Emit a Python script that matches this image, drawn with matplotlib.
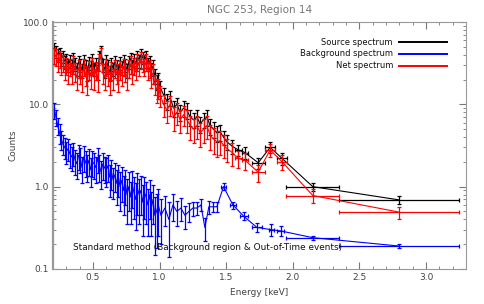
import numpy as np
import matplotlib
matplotlib.use("Agg")
import matplotlib.pyplot as plt
from matplotlib.ticker import FixedLocator, MultipleLocator, NullFormatter

# ---------------- data ----------------
# fine-binned energies (keV), shared by source / net / background
e_fine = [0.210, 0.223, 0.236, 0.249, 0.262, 0.275, 0.288, 0.301, 0.314, 0.327,
          0.340, 0.353, 0.366, 0.379, 0.392, 0.405, 0.418, 0.431, 0.444, 0.457,
          0.470, 0.483, 0.496, 0.509, 0.522, 0.535, 0.548, 0.561, 0.574, 0.587,
          0.600, 0.613, 0.626, 0.639, 0.652, 0.665, 0.678, 0.691, 0.704, 0.717,
          0.730, 0.743, 0.756, 0.769, 0.782, 0.795, 0.808, 0.821, 0.834, 0.847,
          0.860, 0.873, 0.886, 0.899, 0.912, 0.925, 0.938, 0.951, 0.964, 0.977,
          0.990]
# medium bins for source / net
e_mid = [1.005, 1.030, 1.055, 1.080, 1.105, 1.130, 1.155, 1.180, 1.205, 1.230,
         1.255, 1.280, 1.305, 1.330, 1.355, 1.380, 1.405, 1.430, 1.455, 1.480,
         1.505, 1.545]
# wide bins for source / net
e_tail = [1.59, 1.64, 1.74, 1.83, 1.92, 2.15, 2.80]
e_tail_halfwidth = [0.025, 0.025, 0.05, 0.035, 0.04, 0.20, 0.45]

src_fine = [48, 44, 40, 42, 36, 38, 33, 35, 30, 34,
            29, 36, 31, 27, 33, 30, 26, 34, 29, 24,
            32, 28, 35, 27, 31, 25, 38, 44, 30, 26,
            34, 29, 24, 31, 27, 33, 29, 25, 32, 28,
            34, 30, 26, 33, 36, 29, 35, 31, 38, 34,
            40, 37, 34, 38, 31, 33, 27, 29, 22, 19,
            20]
src_fine_err = [8, 7.5, 7, 7, 6.5, 6.5, 6, 6, 5.5, 6,
                5.5, 6.5, 5.5, 5, 6, 5.5, 5, 6, 5.5, 5,
                6, 5.5, 6, 5, 5.5, 5, 6.5, 7, 5.5, 5,
                6, 5.5, 5, 5.5, 5, 6, 5.5, 5, 6, 5.5,
                6, 5.5, 5, 6, 6.5, 5.5, 6, 5.5, 6.5, 6,
                7, 6.5, 6, 6.5, 5.5, 6, 5, 5.5, 4.5, 4,
                4]
src_mid = [16, 13, 11, 12, 9, 10, 8, 9, 8.5, 7,
           6.5, 7, 5.8, 6.5, 7, 5.5, 5, 4.5, 4.6, 4.0,
           3.5, 3.1]
src_mid_err = [3.2, 2.7, 2.4, 2.5, 2.0, 2.1, 1.8, 1.9, 1.8, 1.5,
               1.4, 1.5, 1.3, 1.4, 1.5, 1.2, 1.1, 1.0, 1.0, 0.8,
               0.7, 0.6]
src_tail = [2.8, 2.6, 1.95, 3.0, 2.2, 1.0, 0.69]
src_tail_err = [0.45, 0.45, 0.3, 0.45, 0.35, 0.12, 0.07]

net_fine = [40, 38, 33, 36, 30, 32, 27, 30, 24, 29,
            24, 31, 25, 21, 28, 24, 20, 29, 23, 19,
            27, 22, 30, 21, 26, 20, 33, 40, 24, 21,
            29, 23, 19, 26, 21, 28, 24, 20, 27, 23,
            29, 25, 21, 28, 31, 24, 30, 26, 33, 29,
            35, 32, 29, 33, 26, 28, 22, 24, 18, 15,
            16]
net_fine_err = [9, 8.5, 8, 8, 7.5, 7.5, 7, 7, 6.5, 7,
                6.5, 7.5, 6.5, 6, 7, 6.5, 6, 7, 6.5, 6,
                7, 6.5, 7, 6, 6.5, 6, 7.5, 8, 6.5, 6,
                7, 6.5, 6, 6.5, 6, 7, 6.5, 6, 7, 6.5,
                7, 6.5, 6, 7, 7.5, 6.5, 7, 6.5, 7.5, 7,
                8, 7.5, 7, 7.5, 6.5, 7, 6, 6.5, 5, 4.5,
                4.5]
net_mid = [13, 10, 8.5, 10, 7, 8, 6.5, 7.5, 6.5, 5.5,
           5.0, 5.5, 4.5, 5.0, 5.5, 4.2, 3.8, 3.5, 3.6, 3.2,
           2.9, 2.6]
net_mid_err = [3.6, 3.0, 2.6, 2.8, 2.2, 2.4, 2.0, 2.1, 2.0, 1.8,
               1.6, 1.7, 1.5, 1.6, 1.7, 1.4, 1.3, 1.2, 1.2, 1.0,
               0.9, 0.8]
net_tail = [2.2, 2.1, 1.5, 2.8, 2.0, 0.78, 0.49]
net_tail_err = [0.5, 0.5, 0.35, 0.5, 0.4, 0.15, 0.08]

bkg_fine = [8.5, 7.0, 5.5, 4.5, 3.8, 3.3, 3.0, 2.7, 2.9, 2.5,
            2.3, 2.6, 2.1, 1.9, 2.4, 2.2, 1.7, 2.3, 2.0, 1.8,
            2.1, 1.6, 2.0, 1.9, 1.7, 2.2, 1.8, 1.5, 1.9, 1.7,
            1.6, 1.8, 1.3, 1.5, 1.2, 1.4, 1.1, 1.3, 1.0, 1.2,
            0.9, 1.1, 0.8, 1.0, 0.75, 1.05, 0.85, 0.7, 0.95, 0.8,
            0.9, 0.65, 0.85, 0.75, 0.6, 0.8, 0.55, 0.7, 0.45, 0.5,
            0.6]
bkg_fine_err = [1.8, 1.6, 1.3, 1.2, 1.0, 0.9, 0.85, 0.8, 0.85, 0.8,
                0.75, 0.8, 0.7, 0.65, 0.8, 0.75, 0.6, 0.8, 0.7, 0.65,
                0.75, 0.6, 0.7, 0.65, 0.6, 0.75, 0.65, 0.55, 0.7, 0.6,
                0.6, 0.65, 0.55, 0.6, 0.5, 0.55, 0.5, 0.55, 0.5, 0.55,
                0.45, 0.5, 0.45, 0.5, 0.4, 0.5, 0.45, 0.4, 0.5, 0.45,
                0.45, 0.4, 0.45, 0.4, 0.35, 0.4, 0.3, 0.35, 0.3, 0.32,
                0.35]
bkg_e_mid = [1.01, 1.04, 1.07, 1.10, 1.13, 1.16, 1.19, 1.22, 1.25, 1.28,
             1.31, 1.34, 1.37, 1.40, 1.43]
bkg_mid = [0.45, 0.55, 0.4, 0.6, 0.5, 0.55, 0.45, 0.5, 0.55, 0.55,
           0.6, 0.32, 0.57, 0.57, 0.57]
bkg_mid_err = [0.25, 0.22, 0.26, 0.22, 0.17, 0.17, 0.14, 0.13, 0.11, 0.1,
               0.1, 0.1, 0.1, 0.08, 0.08]
bkg_e_tail = [1.48, 1.55, 1.63, 1.73, 1.84, 1.91, 2.15, 2.80]
bkg_e_tail_halfwidth = [0.02, 0.025, 0.03, 0.04, 0.02, 0.025, 0.20, 0.45]
bkg_tail = [1.0, 0.6, 0.44, 0.32, 0.30, 0.29, 0.24, 0.19]
bkg_tail_err = [0.1, 0.06, 0.05, 0.04, 0.05, 0.04, 0.015, 0.01]

title = "NGC 253, Region 14"
legend_labels = ["Source spectrum", "Background spectrum", "Net spectrum"]
note = "Standard method (Background region & Out-of-Time events)"

# ---------------- plot ----------------
W, H = 485, 304
fig = plt.figure(figsize=(W / 100, H / 100), dpi=100)
ax = fig.add_axes([53 / W, 1 - 269 / H, (466 - 53) / W, (269 - 22) / H])

BLACK, BLUE, RED = "#000000", "#0000ff", "#ff0000"
ekw = dict(elinewidth=0.9, capsize=1.6, capthick=0.9, fmt="none")


def draw(color, e1, v1, s1, e2, v2, s2, e3, v3, s3, w3, z):
    ex = list(e1) + list(e2) + list(e3)
    vx = list(v1) + list(v2) + list(v3)
    ax.plot(ex, vx, color=color, lw=0.8, zorder=z)
    ax.errorbar(e1, v1, yerr=s1, ecolor=color, zorder=z, **ekw)
    ax.errorbar(e2, v2, yerr=s2, ecolor=color, zorder=z, **ekw)
    ax.errorbar(e3, v3, yerr=s3, xerr=w3, ecolor=color, zorder=z, **ekw)


draw(BLACK, e_fine, src_fine, src_fine_err, e_mid, src_mid, src_mid_err,
     e_tail, src_tail, src_tail_err, e_tail_halfwidth, 2)
draw(BLUE, e_fine, bkg_fine, bkg_fine_err, bkg_e_mid, bkg_mid, bkg_mid_err,
     bkg_e_tail, bkg_tail, bkg_tail_err, bkg_e_tail_halfwidth, 3)
draw(RED, e_fine, net_fine, net_fine_err, e_mid, net_mid, net_mid_err,
     e_tail, net_tail, net_tail_err, e_tail_halfwidth, 4)

ax.set_yscale("log")
ax.set_xlim(0.2, 3.3)
ax.set_ylim(0.1, 100)

TXT = "#444444"
ax.xaxis.set_major_locator(FixedLocator([0.5, 1.0, 1.5, 2.0, 2.5, 3.0]))
ax.xaxis.set_minor_locator(MultipleLocator(0.1))
ax.set_xticklabels(["0.5", "1.0", "1.5", "2.0", "2.5", "3.0"])
ax.yaxis.set_major_locator(FixedLocator([0.1, 1, 10, 100]))
ax.set_yticklabels(["0.1", "1.0", "10.0", "100.0"])
ax.yaxis.set_minor_formatter(NullFormatter())
ax.tick_params(which="both", direction="in", top=True, right=True,
               colors="#777777", labelcolor=TXT, labelsize=6.5, pad=3)
ax.tick_params(which="major", length=5, width=0.8)
ax.tick_params(which="minor", length=2.5, width=0.6)
for s in ax.spines.values():
    s.set_color("#999999")
    s.set_linewidth(0.8)
ax.spines["left"].set_linewidth(1.6)

ax.set_xlabel("Energy [keV]", fontsize=6.5, color=TXT, labelpad=4)
ax.set_ylabel("Counts", fontsize=6.5, color=TXT, labelpad=4)
fig.text(0.535, 1 - 10 / H, title, ha="center", va="center",
         fontsize=7.5, color="#777777")

# legend drawn manually (text right-aligned, line to the right)
for lab, col, yf in zip(legend_labels, [BLACK, BLUE, RED],
                        [0.919, 0.872, 0.822]):
    ax.text(0.823, yf, lab, transform=ax.transAxes, ha="right",
            va="center", fontsize=6, color="#111111")
    ax.plot([0.838, 0.954], [yf, yf], transform=ax.transAxes, color=col,
            lw=1.4)

ax.text(0.35, 0.18, note, fontsize=6.4, color="#111111", va="center",
        ha="left", zorder=6)

fig.savefig("out.png", dpi=100)
